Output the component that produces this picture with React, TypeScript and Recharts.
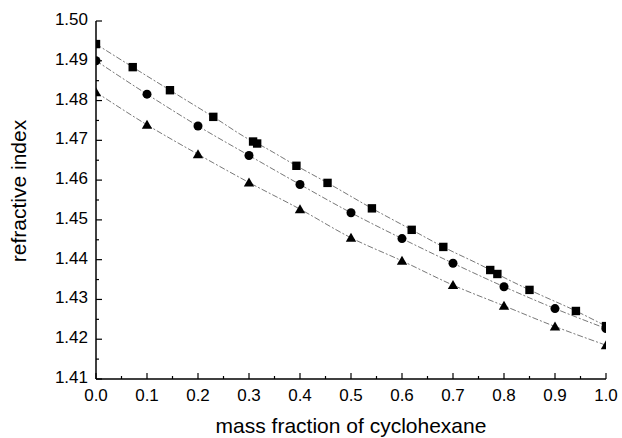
// Refractive index vs. mass fraction of cyclohexane, three series with fitted lines
import React from "react"
import {
  ComposedChart,
  Line,
  Scatter,
  XAxis,
  YAxis,
} from "recharts"

const FONT = '"Liberation Sans", Arial, Helvetica, sans-serif'

// squares
const squareX = [0, 0.072, 0.145, 0.23, 0.308, 0.316, 0.393, 0.454, 0.541, 0.619, 0.681, 0.773, 0.787, 0.85, 0.941, 1.0]
const squareY = [1.4942, 1.4884, 1.4826, 1.4759, 1.4697, 1.4692, 1.4636, 1.4593, 1.4529, 1.4475, 1.4432, 1.4374, 1.4364, 1.4324, 1.4271, 1.4233]
// circles
const circleX = [0, 0.1, 0.2, 0.3, 0.4, 0.5, 0.6, 0.7, 0.8, 0.9, 1.0]
const circleY = [1.49, 1.4816, 1.4736, 1.4662, 1.4589, 1.4518, 1.4453, 1.4391, 1.4332, 1.4277, 1.4227]
// triangles
const triangleX = [0, 0.1, 0.2, 0.3, 0.4, 0.5, 0.6, 0.7, 0.8, 0.9, 1.0]
const triangleY = [1.4821, 1.4739, 1.4665, 1.4594, 1.4527, 1.4455, 1.4397, 1.4336, 1.4284, 1.4232, 1.4185]

const xMajor = [0, 0.1, 0.2, 0.3, 0.4, 0.5, 0.6, 0.7, 0.8, 0.9, 1.0]
const xMinor = [0.05, 0.15, 0.25, 0.35, 0.45, 0.55, 0.65, 0.75, 0.85, 0.95]
const yMajor = [1.41, 1.42, 1.43, 1.44, 1.45, 1.46, 1.47, 1.48, 1.49, 1.5]
const yMinor = [1.415, 1.425, 1.435, 1.445, 1.455, 1.465, 1.475, 1.485, 1.495]

const toPts = (xs: number[], ys: number[]) => xs.map((x, i) => ({ x, y: ys[i] }))
const squares = toPts(squareX, squareY)
const circles = toPts(circleX, circleY)
const triangles = toPts(triangleX, triangleY)

const isMajor = (list: number[], v: number) => list.some((m) => Math.abs(m - v) < 1e-9)

const XTick = (props: any) => {
  const { x, y, payload } = props
  const major = isMajor(xMajor, payload.value)
  return (
    <g>
      <line x1={x} x2={x} y1={y} y2={y - (major ? 6 : 3)} stroke="#000" strokeWidth={1.2} />
      {major && (
        <text x={x} y={y + 22} textAnchor="middle" fontSize={17} fontFamily={FONT} fill="#000">
          {payload.value.toFixed(1)}
        </text>
      )}
    </g>
  )
}

const YTick = (props: any) => {
  const { x, y, payload } = props
  const major = isMajor(yMajor, payload.value)
  return (
    <g>
      <line x1={x} x2={x + (major ? 6 : 3)} y1={y} y2={y} stroke="#000" strokeWidth={1.2} />
      {major && (
        <text x={x - 8} y={y + 4} textAnchor="end" fontSize={17} fontFamily={FONT} fill="#000">
          {payload.value.toFixed(2)}
        </text>
      )}
    </g>
  )
}

const XLabel = (props: any) => {
  const { viewBox } = props
  return (
    <text x={viewBox.x + viewBox.width / 2} y={433} textAnchor="middle" fontSize={21} fontFamily={FONT} fill="#000">
      mass fraction of cyclohexane
    </text>
  )
}

const YLabel = () => (
  <text x={26} y={191} transform="rotate(-90, 26, 191)" textAnchor="middle" fontSize={21} fontFamily={FONT} fill="#000">
    refractive index
  </text>
)

const SquareShape = (p: any) => <rect x={p.cx - 4.2} y={p.cy - 4.2} width={8.4} height={8.4} fill="#000" />
const CircleShape = (p: any) => <circle cx={p.cx} cy={p.cy} r={4.5} fill="#000" />
const TriangleShape = (p: any) => (
  <polygon points={`${p.cx},${p.cy - 5} ${p.cx - 5.2},${p.cy + 4} ${p.cx + 5.2},${p.cy + 4}`} fill="#000" />
)

const lineStyle = { stroke: "#555", strokeWidth: 0.8, strokeDasharray: "6 2 2 2" }

export default function App() {
  return (
    <div style={{ position: "absolute", left: 0, top: 0, width: 622, height: 438, background: "#fff" }}>
      <ComposedChart width={622} height={438} margin={{ top: 21, right: 16, bottom: 0, left: 0 }}>
        <XAxis
          xAxisId="main"
          dataKey="x"
          type="number"
          domain={[0, 1]}
          allowDataOverflow
          ticks={[...xMajor, ...xMinor].sort((a, b) => a - b)}
          interval={0}
          tick={<XTick />}
          tickLine={false}
          tickSize={0}
          tickMargin={0}
          height={59}
          axisLine={{ stroke: "#000", strokeWidth: 1.5 }}
          label={<XLabel />}
        />
        <XAxis
          xAxisId="top"
          orientation="top"
          type="number"
          domain={[0, 1]}
          height={0}
          tick={false}
          tickLine={false}
          axisLine={{ stroke: "#000", strokeWidth: 1.5 }}
        />
        <YAxis
          yAxisId="main"
          dataKey="y"
          type="number"
          domain={[1.41, 1.5]}
          allowDataOverflow
          ticks={[...yMajor, ...yMinor].sort((a, b) => a - b)}
          interval={0}
          tick={<YTick />}
          tickLine={false}
          tickSize={0}
          tickMargin={0}
          width={96}
          axisLine={{ stroke: "#000", strokeWidth: 1.5 }}
          label={<YLabel />}
        />
        <YAxis
          yAxisId="right"
          orientation="right"
          type="number"
          domain={[1.41, 1.5]}
          width={0}
          tick={false}
          tickLine={false}
          axisLine={{ stroke: "#000", strokeWidth: 1.5 }}
        />
        <Line xAxisId="main" yAxisId="main" data={squares} dataKey="y" type="monotone" dot={false} activeDot={false} isAnimationActive={false} {...lineStyle} />
        <Line xAxisId="main" yAxisId="main" data={circles} dataKey="y" type="monotone" dot={false} activeDot={false} isAnimationActive={false} {...lineStyle} />
        <Line xAxisId="main" yAxisId="main" data={triangles} dataKey="y" type="monotone" dot={false} activeDot={false} isAnimationActive={false} {...lineStyle} />
        <Scatter xAxisId="main" yAxisId="main" data={squares} dataKey="y" shape={SquareShape} isAnimationActive={false} />
        <Scatter xAxisId="main" yAxisId="main" data={circles} dataKey="y" shape={CircleShape} isAnimationActive={false} />
        <Scatter xAxisId="main" yAxisId="main" data={triangles} dataKey="y" shape={TriangleShape} isAnimationActive={false} />
      </ComposedChart>
    </div>
  )
}
